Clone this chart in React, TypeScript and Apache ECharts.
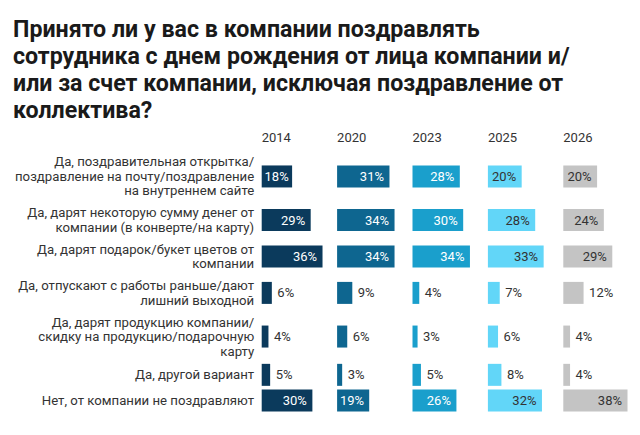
import { useEffect, useRef } from "react";
import * as echarts from "echarts";

const categories = [
  "Да, поздравительная открытка/\nпоздравление на почту/поздравление\nна внутреннем сайте",
  "Да, дарят некоторую сумму денег от\nкомпании (в конверте/на карту)",
  "Да, дарят подарок/букет цветов от\nкомпании",
  "Да, отпускают с работы раньше/дают\nлишний выходной",
  "Да, дарят продукцию компании/\nскидку на продукцию/подарочную\nкарту",
  "Да, другой вариант",
  "Нет, от компании не поздравляют",
];

const years = ["2014", "2020", "2023", "2025", "2026"];

const values2014 = [18, 29, 36, 6, 4, 5, 30];
const values2020 = [31, 34, 34, 9, 6, 3, 19];
const values2023 = [28, 30, 34, 4, 3, 5, 26];
const values2025 = [20, 28, 33, 7, 6, 8, 32];
const values2026 = [20, 24, 29, 12, 4, 4, 38];

const seriesValues = [values2014, values2020, values2023, values2025, values2026];
const colors = ["#0b3a5c", "#0e6690", "#1a9fcc", "#62d6f8", "#c4c4c4"];
const insideTextColors = ["#ffffff", "#ffffff", "#ffffff", "#333333", "#333333"];

const TITLE =
  "Принято ли у вас в компании поздравлять\nсотрудника с днем рождения от лица компании и/\nили за счет компании, исключая поздравление от\nколлектива?";

// layout
const FONT = "Roboto, 'Noto Sans', sans-serif";
const LINE_H = 14.5;
const PAD = 3.7;
const BAR_H = 22;
const GRID_TOP = 151;
const GRID_LEFT = 261.7;
const GRID_PITCH = 75.4;
const GRID_W = 64.2;
const X_MAX = 38;
const INSIDE_MIN = 15;

// row heights follow the number of label lines
const rowHeights = categories.map(
  (c) => Math.max(c.split("\n").length * LINE_H + PAD, BAR_H) + PAD
);
const rowCenters: number[] = [];
let acc = 0;
rowHeights.forEach((h) => {
  rowCenters.push(acc + h / 2);
  acc += h;
});
const TOTAL_H = acc;

const App = () => {
  const chartRef = useRef<HTMLDivElement>(null);

  useEffect(() => {
    if (!chartRef.current) return;
    const chart = echarts.init(chartRef.current, null, { renderer: "svg" });

    const grids = years.map((_, i) => ({
      left: GRID_LEFT + i * GRID_PITCH,
      top: GRID_TOP,
      width: GRID_W,
      height: TOTAL_H,
    }));
    const xAxes = years.map((_, i) => ({
      type: "value",
      gridIndex: i,
      min: 0,
      max: X_MAX,
      show: false,
    }));
    const yAxes = years.map((_, i) => ({
      type: "value",
      gridIndex: i,
      min: 0,
      max: TOTAL_H,
      inverse: true,
      show: false,
    }));

    const barSeries = years.map((year, i) => ({
      type: "custom",
      name: year,
      xAxisIndex: i,
      yAxisIndex: i,
      data: seriesValues[i].map((v, r) => [v, rowCenters[r]]),
      renderItem: (_params: any, api: any) => {
        const v = api.value(0);
        const y = api.value(1);
        const start = api.coord([0, y]);
        const end = api.coord([v, y]);
        const inside = v >= INSIDE_MIN;
        const labelX = inside
          ? Math.max(end[0] - 5.5, start[0] + 27)
          : end[0] + 5.5;
        return {
          type: "group",
          children: [
            {
              type: "rect",
              shape: {
                x: start[0],
                y: start[1] - BAR_H / 2,
                width: end[0] - start[0],
                height: BAR_H,
              },
              style: { fill: colors[i] },
            },
            {
              type: "text",
              x: labelX,
              y: start[1],
              style: {
                text: v + "%",
                align: inside ? "right" : "left",
                verticalAlign: "middle",
                fontSize: 13,
                fontFamily: FONT,
                fill: inside ? insideTextColors[i] : "#333333",
              },
            },
          ],
        };
      },
    }));

    const labelSeries = {
      type: "custom",
      name: "labels",
      xAxisIndex: 0,
      yAxisIndex: 0,
      data: rowCenters.map((y) => [0, y]),
      renderItem: (params: any, api: any) => {
        const p = api.coord([0, api.value(1)]);
        return {
          type: "text",
          x: p[0] - 7.5,
          y: p[1],
          style: {
            text: categories[params.dataIndex],
            align: "right",
            verticalAlign: "middle",
            fontSize: 13.2,
            lineHeight: LINE_H,
            fontFamily: FONT,
            fill: "#333333",
          },
        };
      },
    };

    chart.setOption({
      animation: false,
      title: [
        {
          text: TITLE,
          left: 8,
          top: 11,
          textStyle: {
            fontSize: 23.2,
            fontWeight: "bold",
            lineHeight: 26.8,
            fontFamily: FONT,
            color: "#1a1a1a",
          },
        },
        ...years.map((year, i) => ({
          text: year,
          left: GRID_LEFT + i * GRID_PITCH,
          top: 131,
          padding: 0,
          textStyle: {
            fontSize: 13,
            fontWeight: "normal",
            fontFamily: FONT,
            color: "#333333",
          },
        })),
      ],
      grid: grids,
      xAxis: xAxes,
      yAxis: yAxes,
      series: [labelSeries, ...barSeries],
    });

    return () => {
      chart.dispose();
    };
  }, []);

  return (
    <div
      ref={chartRef}
      style={{ position: "fixed", left: 0, top: 0, width: "640px", height: "435px", background: "#fff" }}
    ></div>
  );
};

export default App;
